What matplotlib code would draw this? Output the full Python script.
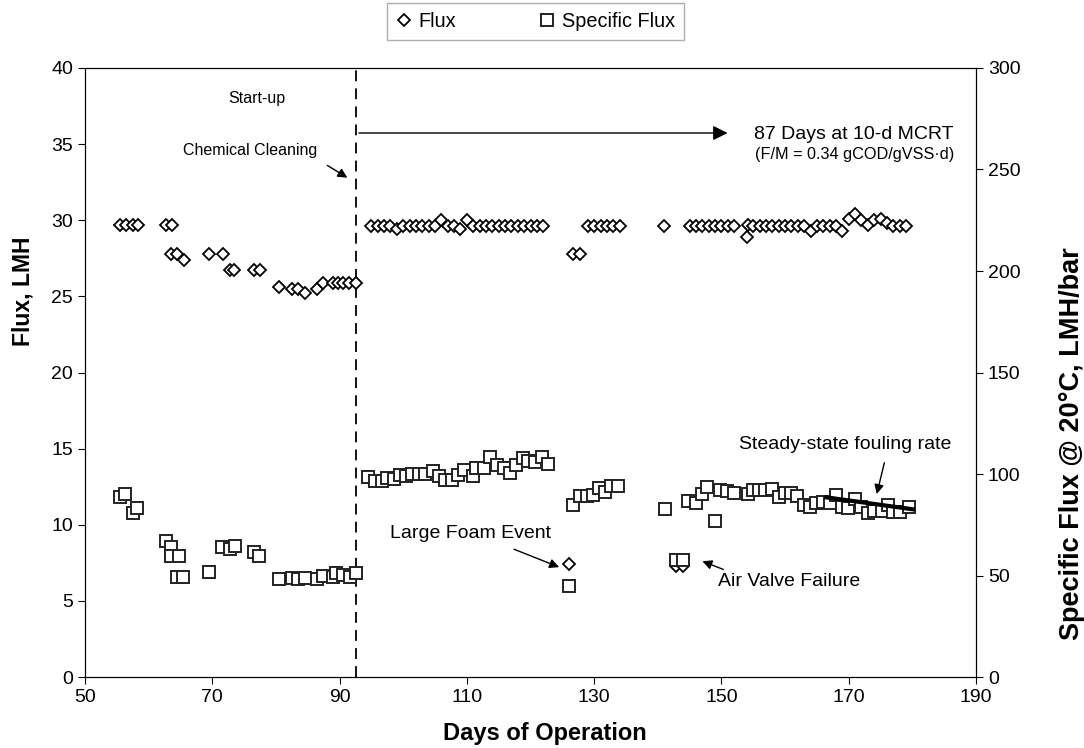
import matplotlib.pyplot as plt

plt.rcParams['font.family'] = ['Liberation Sans', 'DejaVu Sans']

# Flux (left axis, LMH)
flux_days = [55.5, 56.4, 57.5, 58.4, 62.7, 63.7, 63.5, 64.5, 65.6, 69.5, 71.7,
             72.8, 73.4, 76.5, 77.5, 80.5, 82.5, 83.5, 84.6, 86.5, 87.4, 89.0,
             89.8, 90.6, 91.5, 92.6,
             95, 96, 97, 98, 99, 100, 101, 102, 103, 104, 105, 106, 107, 108,
             109, 110, 111, 112, 113, 114, 115, 116, 117, 118, 119, 120, 121, 122,
             126.0, 126.7, 127.8, 129, 130, 131, 132, 133, 134,
             141, 142.9, 143.9, 145, 146, 147, 148, 149, 150, 151, 152, 154, 154.2,
             155, 156, 157, 158, 159, 160, 161, 162, 163, 164, 165, 166, 167, 168,
             169, 170, 171, 172, 173, 174, 175, 176, 177, 178, 179]
flux_vals = [29.7, 29.7, 29.7, 29.7, 29.7, 29.7, 27.8, 27.8, 27.4, 27.8, 27.8,
             26.7, 26.7, 26.7, 26.7, 25.6, 25.5, 25.5, 25.2, 25.5, 25.9, 25.9,
             25.9, 25.9, 25.9, 25.9,
             29.6, 29.6, 29.6, 29.6, 29.4, 29.6, 29.6, 29.6, 29.6, 29.6, 29.6, 30.0,
             29.6, 29.6, 29.4, 30.0, 29.6, 29.6, 29.6, 29.6, 29.6, 29.6, 29.6, 29.6,
             29.6, 29.6, 29.6, 29.6,
             7.4, 27.8, 27.8, 29.6, 29.6, 29.6, 29.6, 29.6, 29.6,
             29.6, 7.3, 7.3, 29.6, 29.6, 29.6, 29.6, 29.6, 29.6, 29.6, 29.6, 28.9, 29.7,
             29.6, 29.6, 29.6, 29.6, 29.6, 29.6, 29.6, 29.6, 29.6, 29.3, 29.6, 29.6,
             29.6, 29.6, 29.3, 30.1, 30.4, 30.0, 29.7, 30.0, 30.1, 29.8, 29.6, 29.6, 29.6]

# Specific flux (right axis, LMH/bar)
sf_days = [55.5, 56.3, 57.5, 58.2, 62.7, 63.5, 63.5, 64.8, 64.5, 65.4, 69.5,
           71.6, 72.8, 73.5, 76.6, 77.4, 80.5, 82.5, 83.4, 84.6, 86.5, 87.4,
           88.9, 89.4, 90.6, 91.7, 92.6,
           94.5, 95.5, 96.6, 97.5, 98.6, 99.5, 100.5, 101.4, 102.5, 103.5, 104.7,
           105.7, 106.5, 107.6, 108.6, 109.6, 111.0, 111.4, 112.7, 113.6, 114.8,
           115.8, 116.8, 117.7, 118.8, 119.6, 120.7, 121.8, 122.7,
           126.0, 126.7, 127.8, 128.9, 129.8, 130.8, 131.7, 132.7, 133.8,
           141.1, 142.9, 143.9,
           144.8, 146.0, 146.9, 147.8, 149.0, 149.8, 150.9, 151.9, 154.2, 154.9,
           155.9, 156.8, 157.9, 159.0, 160.0, 161.0, 161.9, 162.9, 163.9, 164.9,
           165.9, 167.1, 168.0, 168.9, 169.9, 171.0, 172.0, 173.1, 174.0, 175.2,
           176.2, 176.9, 178.1, 179.4]
sf_vals = [88.8, 90.0, 80.6, 83.1, 67.0, 64.2, 59.8, 59.8, 49.4, 49.4, 51.6,
           64.2, 62.9, 64.5, 61.4, 59.6, 48.3, 48.6, 48.1, 48.6, 48.3, 49.9,
           49.1, 51.1, 50.2, 49.1, 51.1,
           98.4, 96.5, 96.5, 97.9, 97.5, 99.5, 99.2, 99.8, 99.8, 99.8, 101.5,
           99.2, 97.0, 97.0, 99.5, 102.0, 99.0, 102.8, 102.8, 108.2, 104.4,
           102.8, 100.3, 104.4, 107.7, 106.6, 106.1, 108.2, 104.8,
           44.8, 84.7, 89.0, 89.0, 89.5, 93.0, 91.0, 94.0, 94.0,
           82.8, 57.6, 57.6,
           86.9, 85.6, 90.1, 93.7, 76.8, 92.1, 91.6, 90.5, 90.1, 92.1,
           92.1, 92.1, 92.5, 88.8, 90.5, 90.8, 89.2, 84.7, 83.9, 85.9,
           86.4, 85.9, 89.7, 83.9, 83.1, 87.7, 83.9, 80.9, 81.9, 81.9,
           84.7, 81.1, 81.1, 83.9]

trend_days = [166.5, 180.1]
trend_vals = [88.5, 82.6]

fig = plt.figure(figsize=(10.84, 7.48), dpi=100)
ax = fig.add_axes([0.0784, 0.0949, 0.8220, 0.8142])
ax2 = ax.twinx()

fl, = ax.plot(flux_days, flux_vals, linestyle='none', marker='D', markersize=6.3,
              markerfacecolor='white', markeredgecolor='black', markeredgewidth=1.3,
              label='Flux', zorder=3)
sf, = ax2.plot(sf_days, sf_vals, linestyle='none', marker='s', markersize=8.8,
               markerfacecolor='white', markeredgecolor='#222222', markeredgewidth=1.4,
               label='Specific Flux', zorder=3)
ax2.plot(trend_days, trend_vals, color='black', linewidth=3, zorder=4)

ax.set_xlim(50, 190)
ax.set_ylim(0, 40)
ax2.set_ylim(0, 300)
ax.set_xticks(range(50, 191, 20))
ax.set_yticks(range(0, 41, 5))
ax2.set_yticks(range(0, 301, 50))
ax.tick_params(labelsize=14, direction='out', length=5)
ax2.tick_params(labelsize=14, direction='out', length=5)

ax.set_xlabel('Days of Operation', fontsize=17, fontweight='bold')
ax.set_ylabel('Flux, LMH', fontsize=16.5, fontweight='bold')
ax2.set_ylabel('Specific Flux @ 20°C, LMH/bar', fontsize=19.5, fontweight='bold')
ax.xaxis.set_label_coords(0.516, -0.074)
ax.yaxis.set_label_coords(-0.057, 0.634)
ax2.yaxis.set_label_coords(1.093, 0.383)

# Chemical cleaning line
ax.axvline(92.6, color='black', linestyle=(0, (6, 4)), linewidth=1.3)

ax.text(77.0, 38.0, 'Start-up', fontsize=11.5, ha='center', va='center')
ax.text(76.0, 34.6, 'Chemical Cleaning', fontsize=11.5, ha='center', va='center')
ax.annotate('', xy=(91.6, 32.7), xytext=(87.7, 33.7),
            arrowprops=dict(arrowstyle='-|>', color='black', lw=1, mutation_scale=14))
ax.annotate('', xy=(151.4, 35.73), xytext=(92.6, 35.73),
            arrowprops=dict(arrowstyle='-|>', color='black', lw=1, mutation_scale=22))
ax.text(170.8, 35.6, '87 Days at 10-d MCRT', fontsize=14, ha='center', va='center')
ax.text(170.9, 34.3, '(F/M = 0.34 gCOD/gVSS·d)', fontsize=11.7, ha='center', va='center')

ax.text(110.5, 9.45, 'Large Foam Event', fontsize=14, ha='center', va='center')
ax.annotate('', xy=(124.9, 7.15), xytext=(117.0, 8.46),
            arrowprops=dict(arrowstyle='-|>', color='black', lw=1, mutation_scale=14))
ax.text(160.7, 6.26, 'Air Valve Failure', fontsize=14, ha='center', va='center')
ax.annotate('', xy=(146.6, 7.67), xytext=(150.7, 7.0),
            arrowprops=dict(arrowstyle='-|>', color='black', lw=1, mutation_scale=14))
ax.text(169.4, 15.24, 'Steady-state fouling rate', fontsize=14, ha='center', va='center')
ax.annotate('', xy=(174.3, 11.84), xytext=(175.7, 14.25),
            arrowprops=dict(arrowstyle='-|>', color='black', lw=1, mutation_scale=14))

leg = fig.legend(handles=[fl, sf], loc='center', bbox_to_anchor=(0.494, 0.971),
                 ncol=2, fontsize=14.3, frameon=True, fancybox=False,
                 handlelength=0.8, handletextpad=0.35, columnspacing=4.2,
                 borderpad=0.45, borderaxespad=0)
leg.get_frame().set_edgecolor('#999999')
leg.get_frame().set_linewidth(1)
leg.legend_handles[0].set_markersize(6)
leg.legend_handles[1].set_markersize(9)

fig.savefig('out.png', dpi=100)
